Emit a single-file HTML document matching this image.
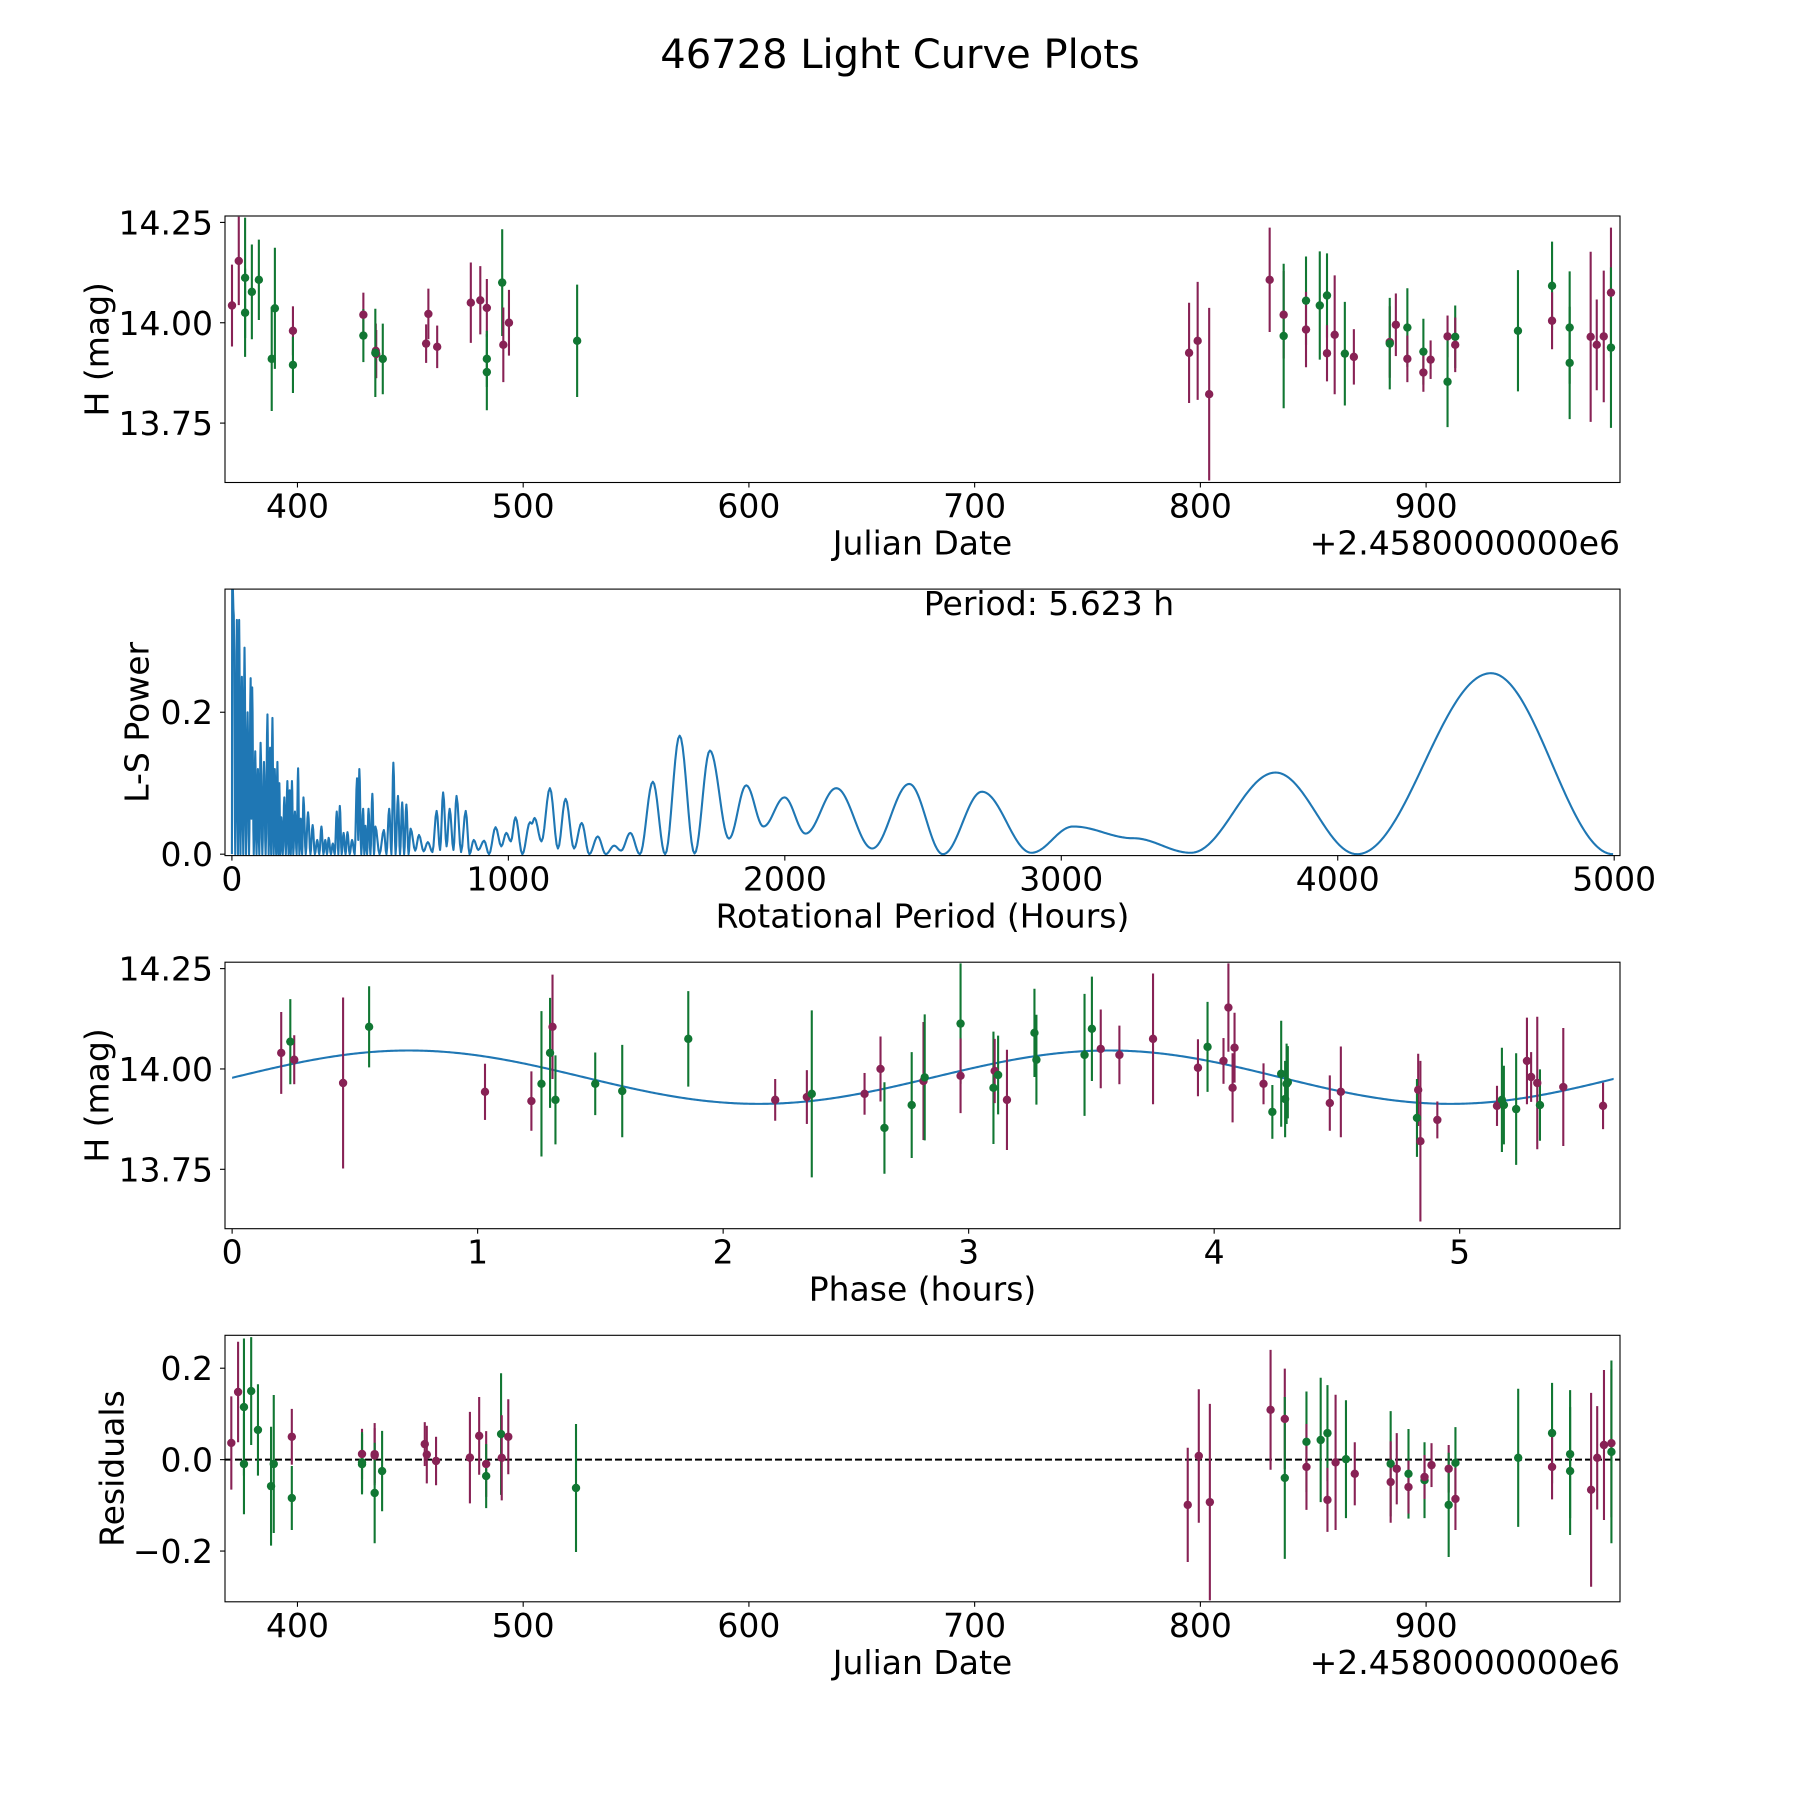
<!DOCTYPE html>
<html><head><meta charset="utf-8"><style>
html,body{margin:0;padding:0;background:#fff;}
svg{display:block;font-family:"DejaVu Sans","Liberation Sans",sans-serif;}
</style></head><body>
<svg id="fig" width="1800" height="1800" viewBox="0 0 1800 1800" xmlns="http://www.w3.org/2000/svg">
<rect width="1800" height="1800" fill="#fff"/>
<text x="900" y="68" font-size="40" text-anchor="middle">46728 Light Curve Plots</text>
</svg>
<script>
// ---------- Panel 1: light curve (JD) ----------
const lcJd   = [371,374,376.8,376.8,379.8,382.9,388.6,390,398,398,429.2,429.2,434.7,434.9,434.5,437.8,457,458,461.9,476.8,481,483.9,483.9,483.9,490.7,491.2,493.7,523.9,795,798.8,803.9,830.7,836.9,836.9,846.8,846.8,852.9,856.1,856.1,859.5,864,868,883.9,883.9,886.6,891.7,891.7,898.8,898.8,902,909.5,909.5,912.9,912.9,940.7,955.8,955.8,963.6,963.6,972.9,975.6,978.7,981.9,981.9];
const lcMag  = [14.043,14.154,14.112,14.025,14.077,14.107,13.91,14.036,13.98,13.895,14.02,13.968,13.93,13.922,13.925,13.91,13.948,14.022,13.94,14.05,14.056,14.037,13.91,13.877,14.1,13.945,14.0,13.955,13.925,13.955,13.822,14.107,14.02,13.967,14.055,13.983,14.043,14.068,13.924,13.97,13.923,13.915,13.952,13.948,13.995,13.988,13.91,13.928,13.876,13.908,13.966,13.853,13.965,13.945,13.98,14.092,14.005,13.988,13.9,13.965,13.945,13.966,14.075,13.938];
const lcErr  = [0.102,0.11,0.15,0.11,0.118,0.1,0.13,0.151,0.061,0.07,0.055,0.066,0.068,0.06,0.11,0.088,0.048,0.063,0.053,0.1,0.085,0.072,0.07,0.095,0.133,0.093,0.082,0.14,0.125,0.147,0.215,0.13,0.109,0.18,0.11,0.094,0.135,0.105,0.07,0.148,0.129,0.069,0.089,0.114,0.078,0.098,0.058,0.082,0.048,0.048,0.052,0.113,0.078,0.068,0.151,0.11,0.071,0.14,0.14,0.212,0.113,0.164,0.162,0.2];
const lcBand = ["p","p","g","g","g","g","g","g","p","g","p","g","p","p","g","g","p","p","p","p","p","p","g","g","g","p","p","g","p","p","p","p","p","g","g","p","g","g","p","p","g","p","p","g","p","g","p","g","p","p","p","g","g","p","g","g","p","g","g","p","p","p","p","g"];

// ---------- Panel 2: Lomb-Scargle periodogram ----------
const lsPeriod = [0,1,6.8,12,17.9,22,26.2,31,36,41,45.6,51,56.7,62,67.7,70.5,73.3,79,84.4,89,94,99,103.7,110,116,122,128.6,133,138,142,146.6,151,155,160,164.6,168,171.6,175,178.5,184,189.6,195,200.6,205,209,213,217.2,222,228,234,239.4,244,249,254,258.8,267,275.4,284,292,300,308.6,316,323.8,331,337.7,344,350,358,365,372,379.2,385,390.3,397,404,411,418,426,434.6,444,452.6,457,460.9,468,474.7,479,483,489,494.1,501,508,514,519,534,549.5,559,568.9,577,584,592,600.7,608,616,623,631,639,646.4,663,676.8,693.5,708.7,725.3,740.5,753,764,776.5,787.6,801.4,812.5,829,845.7,859.6,874.8,891.4,912.2,930.1,953.7,974.5,992.5,1009,1025.7,1050.6,1078.3,1085,1094.9,1119.8,1150.3,1179.3,1207,1237.5,1265.2,1292.8,1323.3,1352.4,1382.8,1407.7,1441,1475.6,1522.6,1567,1619.5,1673.5,1729,1798,1860.4,1922.7,1998.8,2075,2186,2316,2450,2572,2713,2892,3043,3260,3469,3775,4070,4554,4996];
const lsPower  = [0.0,0.40,0.336,0.0,0.33,0.0,0.33,0.0,0.25,0.0,0.291,0.0,0.2,0.0,0.248,0.05,0.235,0.0,0.145,0.0,0.12,0.0,0.157,0.0,0.13,0.0,0.197,0.0,0.15,0.0,0.192,0.0,0.12,0.0,0.13,0.0,0.1,0.0,0.052,0.0,0.08,0.0,0.103,0.0,0.09,0.0,0.103,0.0,0.06,0.0,0.121,0.0,0.05,0.0,0.08,0.0,0.059,0.0,0.041,0.0,0.02,0.0,0.039,0.0,0.02,0.0,0.023,0.0,0.015,0.0,0.06,0.0,0.068,0.0,0.03,0.0,0.031,0.0,0.02,0.0,0.107,0.02,0.12,0.0,0.064,0.0,0.04,0.0,0.064,0.0,0.085,0.0,0.039,0.0,0.034,0.0,0.064,0.0,0.129,0.0,0.082,0.0,0.073,0.0,0.07,0.0,0.036,0.005,0.027,0.004,0.017,0.003,0.061,0.006,0.087,0.011,0.064,0.006,0.082,0.003,0.061,0.0,0.02,0.006,0.019,0.0,0.038,0.011,0.03,0.018,0.052,0.0,0.045,0.043,0.051,0.018,0.093,0.008,0.078,0.008,0.044,0.0,0.025,0.0,0.012,0.005,0.03,0.0,0.102,0.0,0.167,0.001,0.146,0.022,0.097,0.039,0.08,0.029,0.093,0.008,0.099,0.0,0.088,0.002,0.039,0.0225,0.002,0.115,0.0,0.255,0.0];

// ---------- Panel 3: phased light curve ----------
const phHours = [0.200,0.237,0.253,0.452,0.558,1.030,1.219,1.260,1.295,1.305,1.317,1.479,1.589,1.858,2.212,2.341,2.361,2.576,2.641,2.657,2.768,2.816,2.821,2.967,2.967,3.101,3.106,3.12,3.156,3.268,3.276,3.472,3.502,3.538,3.614,3.751,3.934,3.973,4.038,4.058,4.083,4.075,4.201,4.237,4.273,4.289,4.295,4.3,4.471,4.516,4.831,4.826,4.84,4.909,5.152,5.172,5.18,5.23,5.274,5.291,5.316,5.327,5.422,5.584];
const phMag   = [14.040,14.068,14.023,13.965,14.105,13.943,13.92,13.963,14.04,14.105,13.923,13.963,13.945,14.075,13.923,13.93,13.938,13.938,14.0,13.853,13.91,13.97,13.979,14.113,13.983,13.953,13.995,13.985,13.923,14.09,14.023,14.035,14.1,14.05,14.035,14.075,14.003,14.055,14.02,14.153,14.053,13.953,13.963,13.893,13.988,13.925,13.963,13.967,13.915,13.943,13.948,13.878,13.82,13.873,13.908,13.923,13.91,13.9,14.02,13.98,13.965,13.91,13.955,13.908];
const phErr   = [0.102,0.106,0.061,0.213,0.101,0.07,0.074,0.181,0.137,0.13,0.111,0.078,0.115,0.119,0.052,0.067,0.208,0.052,0.081,0.114,0.132,0.147,0.157,0.15,0.093,0.14,0.08,0.098,0.125,0.11,0.112,0.152,0.13,0.098,0.073,0.163,0.071,0.112,0.057,0.11,0.087,0.086,0.051,0.067,0.132,0.095,0.1,0.09,0.069,0.113,0.09,0.097,0.2,0.046,0.05,0.13,0.098,0.139,0.108,0.062,0.165,0.089,0.147,0.058];
const phBand  = ["p","g","p","p","g","p","p","g","g","p","g","g","g","g","p","p","g","p","p","g","g","p","g","g","p","g","p","g","p","g","g","g","g","p","p","p","p","g","p","p","p","p","p","g","g","g","g","g","p","p","p","g","p","p","p","g","g","g","p","p","p","g","p","p"];
// fitted model: extrema (ends extended past axes so slope continues)
const modelPhase = [-0.70,0.72,2.145,3.572,4.962,6.35];
const modelMag   = [13.913,14.046,13.913,14.046,13.913,14.046];

// ---------- Panel 4: residuals ----------
const resJd   = [370.7,373.7,376.3,376.3,379.5,382.5,388.3,389.5,397.5,397.5,428.6,428.6,428.6,434.2,434.2,434.2,437.5,456.4,457.3,461.4,476.4,480.5,483.6,483.6,490.2,490.5,493.4,523.4,794.4,799.3,804.2,831.1,837.4,837.4,847,847,853.3,856.3,856.3,859.9,864.5,868.4,884.3,884.3,887,892.2,892.2,899.3,899.3,902.4,910,910,913,913,940.8,955.8,955.8,963.8,963.8,973.1,975.8,978.8,982.1,982.1];
const resVal  = [0.0365,0.148,0.115,-0.0095,0.150,0.065,-0.058,-0.0095,0.05,-0.084,0.0124,-0.006,-0.01,0.012,0.009,-0.073,-0.025,0.034,0.011,-0.003,0.0044,0.052,-0.0095,-0.036,0.056,0.004,0.05,-0.062,-0.099,0.008,-0.093,0.109,0.089,-0.040,0.039,-0.016,0.043,0.058,-0.088,-0.006,0.001,-0.031,-0.009,-0.049,-0.02,-0.031,-0.06,-0.045,-0.038,-0.012,-0.02,-0.099,-0.007,-0.086,0.004,0.058,-0.016,0.012,-0.025,-0.066,0.004,0.032,0.036,0.017];
const resErr  = [0.102,0.11,0.15,0.11,0.118,0.1,0.13,0.151,0.061,0.07,0.055,0.066,0.066,0.068,0.06,0.11,0.088,0.048,0.063,0.053,0.1,0.085,0.072,0.07,0.133,0.093,0.082,0.14,0.125,0.146,0.215,0.131,0.11,0.177,0.11,0.094,0.136,0.105,0.07,0.148,0.129,0.069,0.115,0.089,0.078,0.098,0.058,0.083,0.048,0.048,0.052,0.114,0.078,0.068,0.151,0.11,0.071,0.14,0.14,0.212,0.113,0.164,0.162,0.2];
const resBand = ["p","p","g","g","g","g","g","g","p","g","p","g","g","p","p","g","g","p","p","p","p","p","p","g","g","p","p","g","p","p","p","p","p","g","g","p","g","g","p","p","g","p","g","p","p","g","p","g","p","p","p","g","g","p","g","g","p","g","g","p","p","p","p","g"];

// ticks
const jdTicks = [400,500,600,700,800,900];
const magTicks = [13.75,14.00,14.25];
const magTickLabels = ["13.75","14.00","14.25"];
const lsXTicks = [0,1000,2000,3000,4000,5000];
const lsYTicks = [0.0,0.2];
const lsYTickLabels = ["0.0","0.2"];
const phTicks = [0,1,2,3,4,5];
const resTicks = [-0.2,0.0,0.2];
const resTickLabels = ["\u22120.2","0.0","0.2"];

const NS = "http://www.w3.org/2000/svg";
const svg = document.getElementById("fig");
const COL = {p:"#882255", g:"#117733"};
const L = 225, R = 1620, FS = 33;

function mk(tag, attrs, parent){
  const e = document.createElementNS(NS, tag);
  for (const k in attrs) e.setAttribute(k, attrs[k]);
  (parent || svg).appendChild(e);
  return e;
}
function lin(d0, d1, r0, r1){ return v => r0 + (v - d0) * (r1 - r0) / (d1 - d0); }

function makeAxes(id, top, bot, xlim, ylim, name){
  const g = mk("g", {});
  
  
  const cp = mk("clipPath", {id: "clip" + id}, g);
  mk("rect", {x: L, y: top, width: R - L, height: bot - top}, cp);
  const plot = mk("g", {"clip-path": "url(#clip" + id + ")"}, g);
  
  
  return {g, plot, top, bot, x: lin(xlim[0], xlim[1], L, R), y: lin(ylim[0], ylim[1], bot, top)};
}
function frame(ax){
  const f = mk("rect", {x: L, y: ax.top, width: R - L, height: ax.bot - ax.top, fill: "none", stroke: "#000", "stroke-width": 1.1}, ax.g);
  
  
}
function xTicks(ax, vals, labels, name){
  vals.forEach((v, i) => {
    const px = ax.x(v);
    mk("line", {x1: px, x2: px, y1: ax.bot, y2: ax.bot + 5, stroke: "#000", "stroke-width": 1.1}, ax.g);
    const t = mk("text", {x: px, y: ax.bot + 35, "font-size": FS, "text-anchor": "middle"}, ax.g);
    t.textContent = labels[i];
    
    
  });
}
function yTicks(ax, vals, labels, name){
  vals.forEach((v, i) => {
    const py = ax.y(v);
    mk("line", {x1: L - 5, x2: L, y1: py, y2: py, stroke: "#000", "stroke-width": 1.1}, ax.g);
    const t = mk("text", {x: L - 12, y: py + 12, "font-size": FS, "text-anchor": "end"}, ax.g);
    t.textContent = labels[i];
    
    
  });
}
function xLabel(ax, txt, name){
  const t = mk("text", {x: (L + R) / 2, y: ax.bot + 72, "font-size": FS, "text-anchor": "middle"}, ax.g);
  t.textContent = txt;
  
  
}
function yLabel(ax, txt, cx, name){
  const cy = (ax.top + ax.bot) / 2;
  const t = mk("text", {x: cx, y: cy, "font-size": FS, "text-anchor": "middle", "dominant-baseline": "central", transform: "rotate(-90 " + cx + " " + cy + ")"}, ax.g);
  t.textContent = txt;
  
  
}
function offsetText(ax){
  const t = mk("text", {x: R, y: ax.bot + 72, "font-size": FS, "text-anchor": "end"}, ax.g);
  t.textContent = "+2.4580000000e6";
  
  
}
function errPoints(ax, xs, ys, es, bands, name){
  xs.forEach((xv, i) => {
    const px = ax.x(xv), c = COL[bands[i]];
    const bar = mk("line", {x1: px, x2: px, y1: ax.y(ys[i] - es[i]), y2: ax.y(ys[i] + es[i]), stroke: c, "stroke-width": 2.1}, ax.plot);
    
    
  });
  xs.forEach((xv, i) => {
    const c = COL[bands[i]];
    const pt = mk("circle", {cx: ax.x(xv), cy: ax.y(ys[i]), r: 4.2, fill: c}, ax.plot);
    
    
  });
}
// half-cosine interpolation between consecutive read-off extrema
function smoothPath(ax, xs, ys){
  let d = "M" + ax.x(xs[0]).toFixed(2) + "," + ax.y(ys[0]).toFixed(2);
  for (let i = 0; i < xs.length - 1; i++){
    const n = Math.max(4, Math.ceil((ax.x(xs[i+1]) - ax.x(xs[i])) / 1.5));
    for (let k = 1; k <= n; k++){
      const t = k / n, w = (1 - Math.cos(Math.PI * t)) / 2;
      const xv = xs[i] + (xs[i+1] - xs[i]) * t, yv = ys[i] + (ys[i+1] - ys[i]) * w;
      d += " L" + ax.x(xv).toFixed(2) + "," + ax.y(yv).toFixed(2);
    }
  }
  return d;
}

// ---- Panel 1
const a1 = makeAxes(1, 216, 482.5, [367.9, 985.9], [13.602, 14.266], "light-curve-axes");
errPoints(a1, lcJd, lcMag, lcErr, lcBand, "lc");
frame(a1);
xTicks(a1, jdTicks, jdTicks.map(String), "x");
yTicks(a1, magTicks, magTickLabels, "y");
xLabel(a1, "Julian Date", "x-axis-title");
offsetText(a1);
yLabel(a1, "H (mag)", 97, "y-axis-title");

// ---- Panel 2
const a2 = makeAxes(2, 589.1, 855.6, [-25, 5021], [-0.002, 0.3735], "periodogram-axes");
const ls = mk("path", {d: smoothPath(a2, lsPeriod, lsPower), fill: "none", stroke: "#1f77b4", "stroke-width": 2.1, "stroke-linejoin": "round"}, a2.plot);


frame(a2);
xTicks(a2, lsXTicks, lsXTicks.map(String), "x");
yTicks(a2, lsYTicks, lsYTickLabels, "y");
xLabel(a2, "Rotational Period (Hours)", "x-axis-title");
yLabel(a2, "L-S Power", 137, "y-axis-title");
const per = mk("text", {x: 1049, y: 615, "font-size": FS, "text-anchor": "middle"}, a2.g);
per.textContent = "Period: 5.623 h";



// ---- Panel 3
const a3 = makeAxes(3, 962.2, 1228.7, [-0.029, 5.653], [13.602, 14.266], "phase-axes");
const a3line = makeAxes(5, 962.2, 1228.7, [-0.029, 5.653], [13.602, 14.266], "model-clip");
const clipFit = mk("clipPath", {id: "clipFit"}, a3.g);
mk("rect", {x: a3.x(0), y: 962.2, width: a3.x(5.627) - a3.x(0), height: 266.5}, clipFit);
const fit = mk("path", {d: smoothPath(a3, modelPhase, modelMag), fill: "none", stroke: "#1f77b4", "stroke-width": 2.1, "clip-path": "url(#clipFit)"}, a3.plot);


errPoints(a3, phHours, phMag, phErr, phBand, "phase");
frame(a3);
xTicks(a3, phTicks, phTicks.map(String), "x");
yTicks(a3, magTicks, magTickLabels, "y");
xLabel(a3, "Phase (hours)", "x-axis-title");
yLabel(a3, "H (mag)", 97, "y-axis-title");

// ---- Panel 4
const a4 = makeAxes(4, 1335.3, 1601.8, [367.9, 985.9], [-0.311, 0.272], "residuals-axes");
const zl = mk("line", {x1: L, x2: R, y1: a4.y(0), y2: a4.y(0), stroke: "#000", "stroke-width": 2, "stroke-dasharray": "7,3"}, a4.plot);


errPoints(a4, resJd, resVal, resErr, resBand, "residual");
frame(a4);
xTicks(a4, jdTicks, jdTicks.map(String), "x");
yTicks(a4, resTicks, resTickLabels, "y");
xLabel(a4, "Julian Date", "x-axis-title");
offsetText(a4);
yLabel(a4, "Residuals", 112, "y-axis-title");
</script>
</body></html>
